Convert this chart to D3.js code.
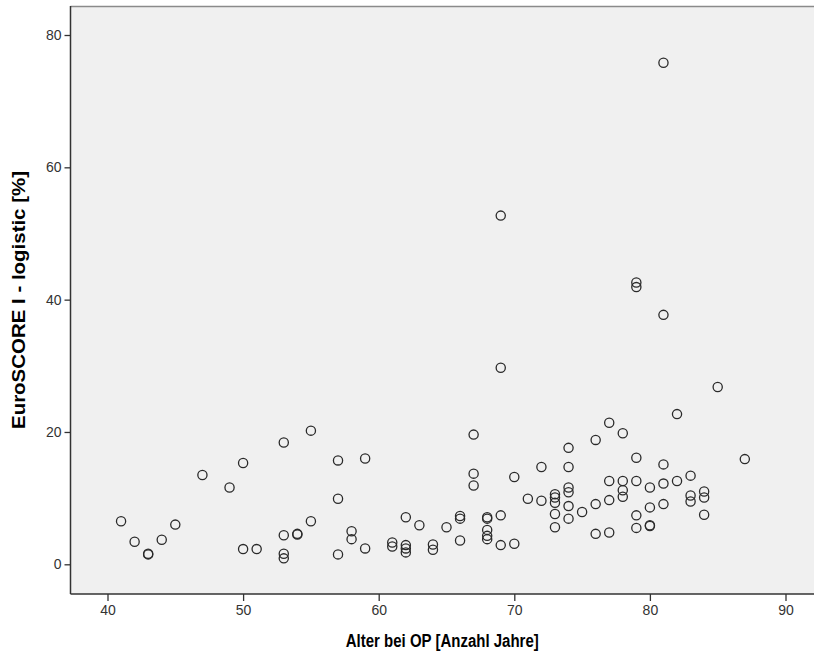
<!DOCTYPE html>
<html>
<head>
<meta charset="utf-8">
<script src="https://cdn.jsdelivr.net/npm/d3@7"></script>
<style>
  html, body { margin: 0; padding: 0; background: #ffffff; }
  svg { display: block; }
</style>
</head>
<body>
<svg id="chart" width="814" height="661"></svg>
<script>
// Age at operation (years)
const ages = [
  41, 42, 43, 43, 44, 45, 47, 49, 50, 50, 51,
  53, 53, 53, 53, 54, 54, 55, 55,
  57, 57, 57, 58, 58, 59, 59,
  61, 61, 62, 62, 62, 62, 63, 64, 64, 65,
  66, 66, 66, 67, 67, 67,
  68, 68, 68, 68, 68,
  69, 69, 69, 69, 70, 70, 71, 72, 72,
  73, 73, 73, 73, 73,
  74, 74, 74, 74, 74, 74, 75,
  76, 76, 76, 77, 77, 77, 77,
  78, 78, 78, 78,
  79, 79, 79, 79, 79, 79,
  80, 80, 80, 80,
  81, 81, 81, 81, 81,
  82, 82, 83, 83, 83, 84, 84, 84, 85, 87
];
// EuroSCORE I - logistic (%)
const scores = [
  6.5, 3.4, 1.5, 1.6, 3.7, 6.0, 13.5, 11.6, 15.3, 2.3, 2.3,
  18.4, 4.4, 1.6, 0.9, 4.6, 4.5, 20.2, 6.5,
  15.7, 9.9, 1.5, 5.0, 3.8, 16.0, 2.4,
  3.3, 2.7, 7.1, 2.9, 2.4, 1.8, 5.9, 3.0, 2.2, 5.6,
  7.3, 6.9, 3.6, 19.6, 13.7, 11.9,
  7.1, 6.9, 5.2, 4.3, 3.8,
  52.7, 29.7, 7.4, 2.9, 13.2, 3.1, 9.9, 14.7, 9.6,
  10.6, 10.1, 9.3, 7.6, 5.6,
  17.6, 14.7, 11.6, 10.9, 8.8, 6.9, 7.9,
  18.8, 9.1, 4.6, 21.4, 12.6, 9.7, 4.8,
  19.8, 12.6, 11.2, 10.2,
  42.6, 41.9, 16.1, 12.6, 7.4, 5.5,
  11.6, 8.6, 5.8, 5.9,
  75.8, 37.7, 15.1, 12.2, 9.1,
  22.7, 12.6, 13.4, 10.4, 9.5, 11.0, 10.1, 7.5, 26.8, 15.9
];
const xTicks = [40, 50, 60, 70, 80, 90];
const yTicks = [0, 20, 40, 60, 80];
const xTitle = "Alter bei OP [Anzahl Jahre]";
const yTitle = "EuroSCORE I - logistic [%]";

const points = ages.map((a, i) => ({ age: a, score: scores[i] }));

const svg = d3.select("#chart");
const plot = { left: 70.5, right: 814, top: 6, bottom: 594 };

const x = d3.scaleLinear().domain([40, 90]).range([107.5, 785.5]);
const y = d3.scaleLinear().domain([0, 80]).range([564.3, 35]);

// plot background
svg.append("rect")
  .attr("x", plot.left).attr("y", plot.top)
  .attr("width", plot.right - plot.left).attr("height", plot.bottom - plot.top)
  .attr("fill", "#f0f0f0");

// top border
svg.append("line")
  .attr("x1", plot.left).attr("x2", plot.right)
  .attr("y1", plot.top + 0.5).attr("y2", plot.top + 0.5)
  .attr("stroke", "#8a8a8a").attr("stroke-width", 1.5);

// axes
const xAxis = d3.axisBottom(x).tickValues(xTicks).tickSize(7).tickPadding(4).tickFormat(d3.format("d"));
const yAxis = d3.axisLeft(y).tickValues(yTicks).tickSize(6).tickPadding(3).tickFormat(d3.format("d"));

const gx = svg.append("g").attr("transform", `translate(0,${plot.bottom})`).call(xAxis);
const gy = svg.append("g").attr("transform", `translate(${plot.left},0)`).call(yAxis);

[gx, gy].forEach(g => {
  g.select(".domain").remove();
  g.selectAll(".tick line").attr("stroke", "#333").attr("stroke-width", 1.3);
  g.selectAll(".tick text")
    .attr("fill", "#333")
    .style("font-family", "'Liberation Sans', Arial, sans-serif")
    .style("font-size", "14px");
});

// axis lines
svg.append("line")
  .attr("x1", plot.left).attr("x2", plot.left)
  .attr("y1", plot.top).attr("y2", plot.bottom)
  .attr("stroke", "#333").attr("stroke-width", 1.5);
svg.append("line")
  .attr("x1", plot.left).attr("x2", plot.right)
  .attr("y1", plot.bottom).attr("y2", plot.bottom)
  .attr("stroke", "#333").attr("stroke-width", 1.5);

// points
svg.append("g").selectAll("circle")
  .data(points)
  .join("circle")
  .attr("cx", d => x(d.age))
  .attr("cy", d => y(d.score))
  .attr("r", 4.6)
  .attr("fill", "none")
  .attr("stroke", "#2a2a2a")
  .attr("stroke-width", 1.3);

// titles
svg.append("text")
  .attr("x", (plot.left + plot.right) / 2)
  .attr("y", 647)
  .attr("text-anchor", "middle")
  .attr("textLength", 193)
  .attr("lengthAdjust", "spacingAndGlyphs")
  .style("font-family", "'Liberation Sans', Arial, sans-serif")
  .style("font-weight", "bold")
  .style("font-size", "18px")
  .attr("fill", "#000")
  .text(xTitle);

svg.append("text")
  .attr("transform", `translate(25,${(plot.top + plot.bottom) / 2}) rotate(-90)`)
  .attr("text-anchor", "middle")
  .attr("textLength", 258)
  .attr("lengthAdjust", "spacingAndGlyphs")
  .style("font-family", "'Liberation Sans', Arial, sans-serif")
  .style("font-weight", "bold")
  .style("font-size", "18px")
  .attr("fill", "#000")
  .text(yTitle);
</script>
</body>
</html>
